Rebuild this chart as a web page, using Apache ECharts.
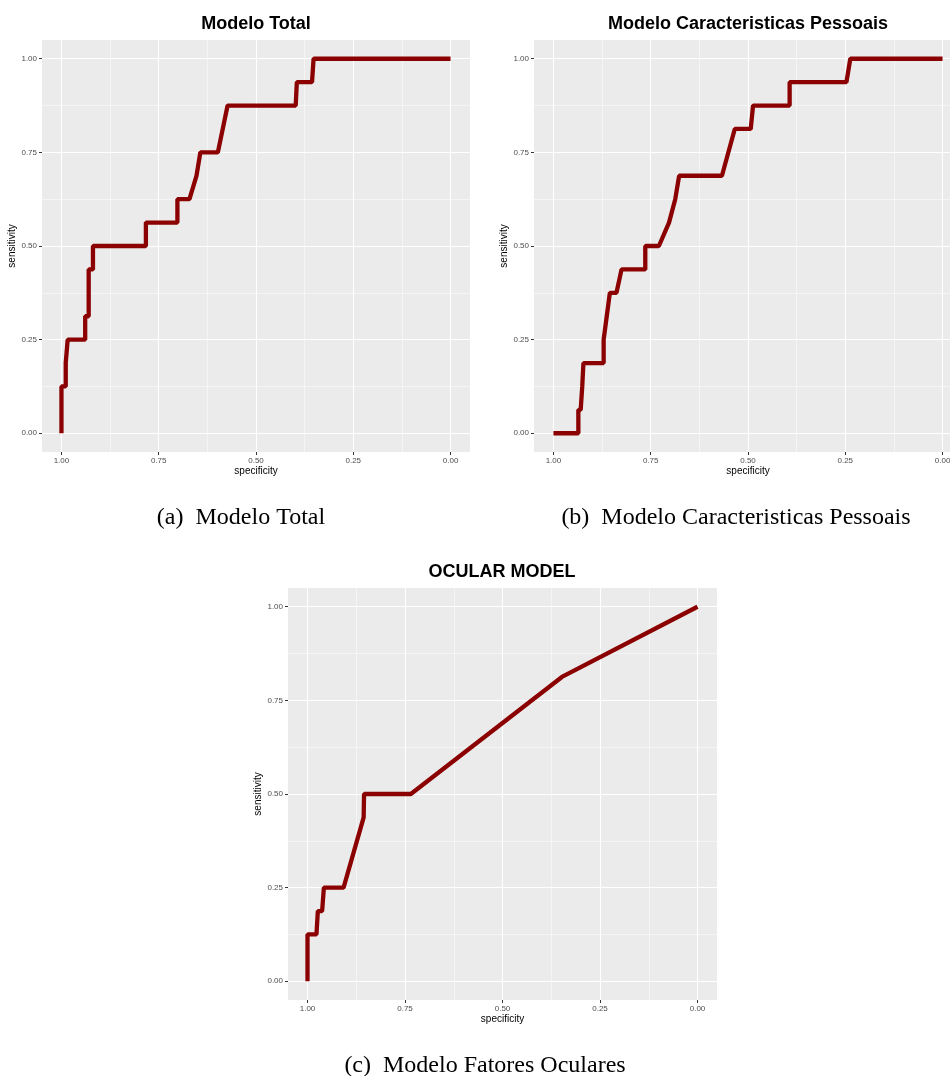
<!DOCTYPE html>
<html>
<head>
<meta charset="utf-8">
<script src="https://cdn.jsdelivr.net/npm/echarts@6/dist/echarts.min.js"></script>
<style>
html, body { margin: 0; padding: 0; background: #ffffff; }
#chart { width: 950px; height: 1076px; }
</style>
</head>
<body>
<div id="chart"></div>
<script>
// Tick positions shared by all three ROC panels
const majorTicks = [0, 0.25, 0.5, 0.75, 1];
const minorTicks = [0.125, 0.375, 0.625, 0.875];

// (a) Modelo Total
const totalSpec = [1, 1, 0.989, 0.989, 0.984, 0.984, 0.939, 0.939, 0.930, 0.930, 0.919, 0.919, 0.783, 0.783, 0.702, 0.702, 0.671, 0.653, 0.643, 0.598, 0.573, 0.398, 0.395, 0.356, 0.352, 0];
const totalSens = [0, 0.125, 0.125, 0.1875, 0.1875, 0.25, 0.25, 0.3125, 0.3125, 0.4375, 0.4375, 0.5, 0.5, 0.5625, 0.5625, 0.625, 0.625, 0.6875, 0.75, 0.75, 0.875, 0.875, 0.9375, 0.9375, 1, 1];

// (b) Modelo Caracteristicas Pessoais
const pessoaisSpec = [1, 0.936, 0.936, 0.930, 0.926, 0.923, 0.871, 0.871, 0.866, 0.855, 0.838, 0.825, 0.764, 0.764, 0.729, 0.703, 0.687, 0.677, 0.567, 0.534, 0.493, 0.487, 0.393, 0.393, 0.247, 0.237, 0];
const pessoaisSens = [0, 0, 0.0625, 0.0625, 0.125, 0.1875, 0.1875, 0.25, 0.25, 0.375, 0.375, 0.4375, 0.4375, 0.5, 0.5, 0.5625, 0.625, 0.6875, 0.6875, 0.8125, 0.8125, 0.875, 0.875, 0.9375, 0.9375, 1, 1];

// (c) Modelo Fatores Oculares
const ocularSpec = [1, 1, 0.977, 0.9735, 0.9625, 0.958, 0.9075, 0.856, 0.855, 0.735, 0.3476, 0];
const ocularSens = [0, 0.125, 0.125, 0.1875, 0.1875, 0.25, 0.25, 0.4375, 0.5, 0.5, 0.8125, 1];

const panelTitles = ['Modelo Total', 'Modelo Caracteristicas Pessoais', 'OCULAR MODEL'];
const captions = ['(a)  Modelo Total', '(b)  Modelo Caracteristicas Pessoais', '(c)  Modelo Fatores Oculares'];

const SANS = '"Liberation Sans", Arial, Helvetica, sans-serif';
const SERIF = '"Liberation Serif", "Times New Roman", serif';
const LINE_COLOR = '#8B0000';

// Panel boxes (grey plotting area)
const panels = [
  { left: 42, top: 40, width: 428, height: 412, titleX: 256, titleY: 24, capX: 241, capY: 518 },
  { left: 534, top: 40, width: 428, height: 412, titleX: 748, titleY: 24, capX: 736, capY: 518 },
  { left: 288, top: 588, width: 429, height: 412, titleX: 502, titleY: 572, capX: 485, capY: 1066 }
];

const curves = [
  [totalSpec, totalSens],
  [pessoaisSpec, pessoaisSens],
  [ocularSpec, ocularSens]
];

const grids = [], xAxes = [], yAxes = [], series = [], graphics = [];

panels.forEach((p, i) => {
  grids.push({
    left: p.left, top: p.top, width: p.width, height: p.height,
    show: true, backgroundColor: '#EBEBEB', borderWidth: 0,
    outerBoundsMode: 'none', containLabel: false
  });

  const axisBase = {
    type: 'value', gridIndex: i, min: -0.05, max: 1.05,
    axisLine: { show: false, onZero: false }
  };

  // major axis with labels, ticks and major grid lines
  xAxes.push(Object.assign({}, axisBase, {
    position: 'bottom',
    inverse: true,
    name: 'specificity', nameLocation: 'middle', nameGap: 14,
    nameTextStyle: { fontSize: 10, color: '#000', fontFamily: SANS },
    axisTick: { show: true, length: 3, lineStyle: { color: '#333333', width: 1 }, customValues: majorTicks },
    axisLabel: { customValues: majorTicks, formatter: v => v.toFixed(2), fontSize: 8, color: '#4D4D4D', fontFamily: SANS, margin: 5 },
    splitLine: { show: true, lineStyle: { color: '#FFFFFF', width: 1.1 } }
  }));
  // minor grid lines
  xAxes.push(Object.assign({}, axisBase, {
    position: 'top',
    inverse: true,
    axisTick: { show: false, customValues: minorTicks },
    axisLabel: { show: false },
    splitLine: { show: true, lineStyle: { color: '#FFFFFF', width: 0.5 } }
  }));

  yAxes.push(Object.assign({}, axisBase, {
    position: 'left',
    name: 'sensitivity', nameLocation: 'middle', nameGap: 24,
    nameTextStyle: { fontSize: 10, color: '#000', fontFamily: SANS },
    axisTick: { show: true, length: 3, lineStyle: { color: '#333333', width: 1 }, customValues: majorTicks },
    axisLabel: { customValues: majorTicks, formatter: v => v.toFixed(2), fontSize: 8, color: '#4D4D4D', fontFamily: SANS, margin: 5 },
    splitLine: { show: true, lineStyle: { color: '#FFFFFF', width: 1.1 } }
  }));
  yAxes.push(Object.assign({}, axisBase, {
    position: 'right',
    axisTick: { show: false, customValues: minorTicks },
    axisLabel: { show: false },
    splitLine: { show: true, lineStyle: { color: '#FFFFFF', width: 0.5 } }
  }));

  const [spec, sens] = curves[i];
  series.push({
    type: 'line',
    xAxisIndex: 2 * i,
    yAxisIndex: 2 * i,
    data: spec.map((s, k) => [s, sens[k]]),
    showSymbol: false,
    symbol: 'none',
    silent: true,
    lineStyle: { color: LINE_COLOR, width: 4.3 },
    z: 5
  });

  graphics.push({
    type: 'text', x: p.titleX, y: p.titleY,
    style: {
      text: panelTitles[i], font: 'bold 18px ' + SANS, fill: '#000',
      align: 'center', verticalAlign: 'middle', textAlign: 'center', textVerticalAlign: 'middle'
    }
  });
  graphics.push({
    type: 'text', x: p.capX, y: p.capY,
    style: {
      text: captions[i], font: '24px ' + SERIF, fill: '#000',
      align: 'center', verticalAlign: 'middle', textAlign: 'center', textVerticalAlign: 'middle'
    }
  });
});

const chart = echarts.init(document.getElementById('chart'), null, { renderer: 'canvas' });
chart.setOption({
  animation: false,
  backgroundColor: '#FFFFFF',
  grid: grids,
  xAxis: xAxes,
  yAxis: yAxes,
  series: series,
  graphic: graphics
});
</script>
</body>
</html>
